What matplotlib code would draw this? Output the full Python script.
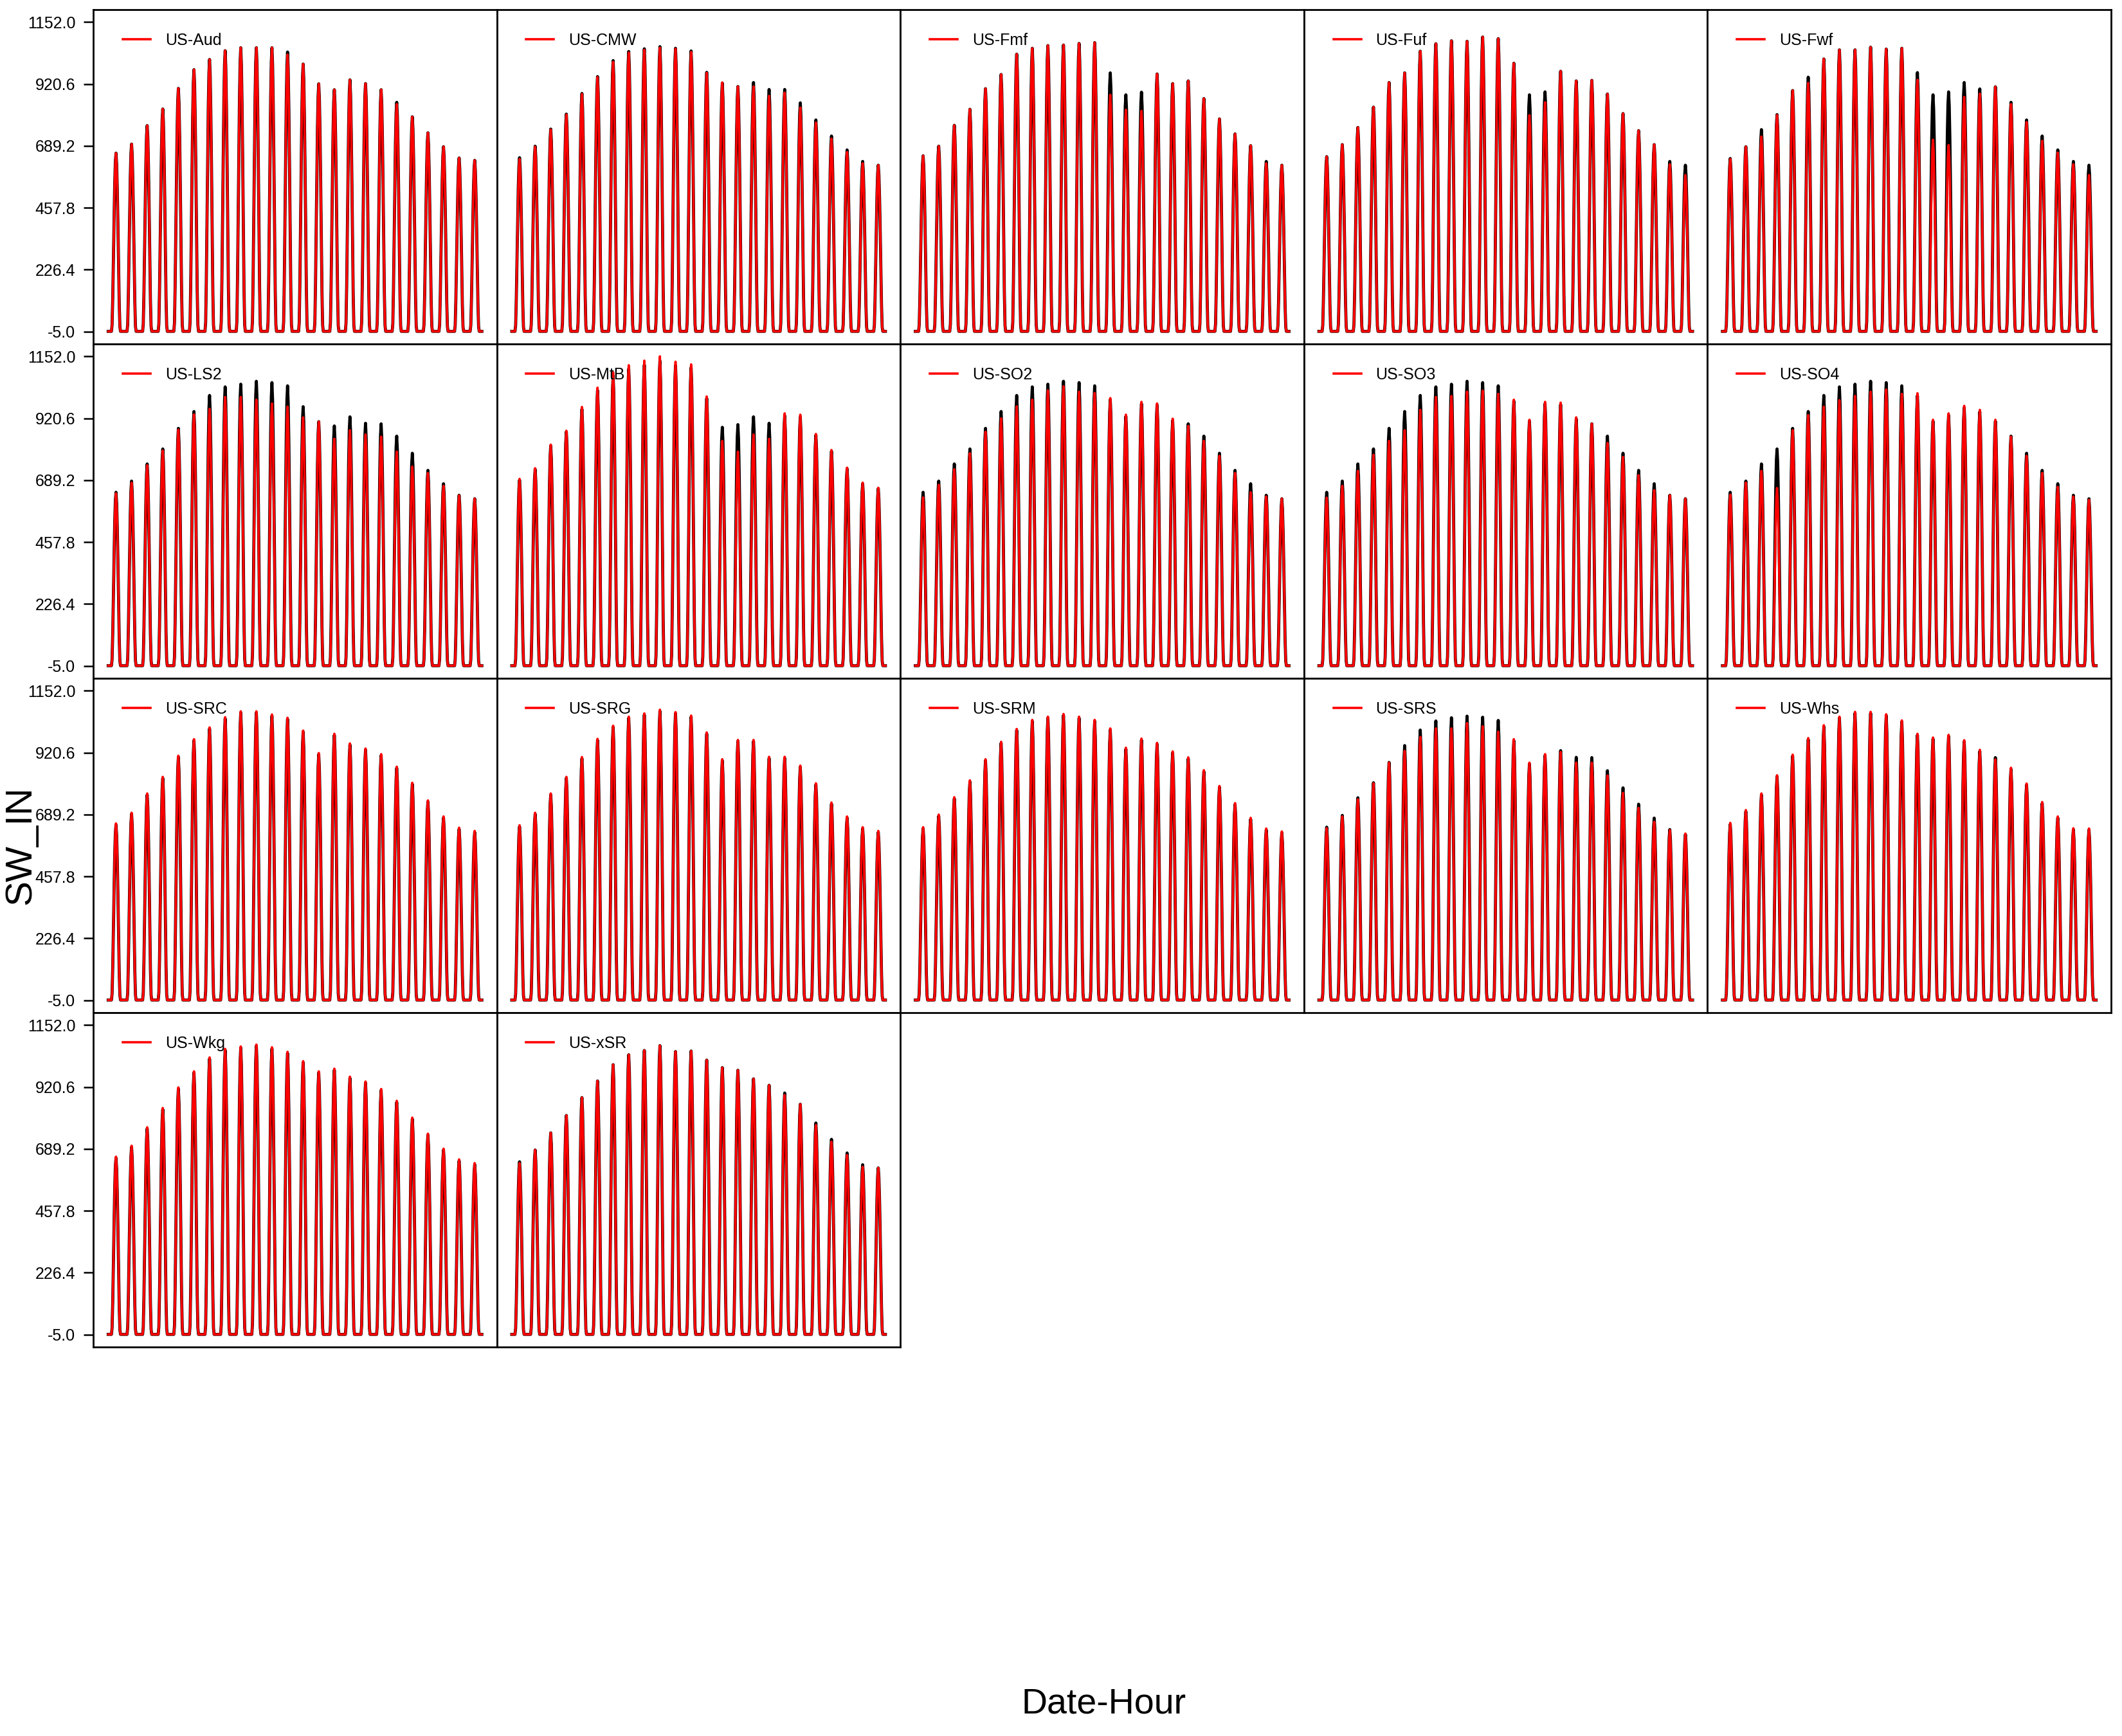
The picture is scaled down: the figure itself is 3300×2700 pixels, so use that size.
import numpy as np
import matplotlib
matplotlib.use('Agg')
import matplotlib.pyplot as plt

plt.rcParams['font.family'] = ['Liberation Sans', 'DejaVu Sans']

# daily peak of SW_IN (W m-2) for 24 consecutive days, black and red series
aud_black = [662, 696, 765, 827, 904, 974, 1012, 1045, 1056, 1056, 1056, 1040, 995, 921, 899, 936, 922, 899, 852, 798, 738, 686, 644, 635]
aud_red = [662, 696, 765, 827, 904, 974, 1012, 1045, 1056, 1056, 1056, 1030, 995, 921, 899, 936, 922, 899, 845, 798, 738, 686, 644, 635]

cmw_black = [645, 688, 752, 808, 885, 948, 1008, 1042, 1052, 1060, 1054, 1044, 964, 924, 911, 926, 900, 900, 850, 786, 726, 674, 631, 617]
cmw_red = [640, 686, 750, 806, 883, 946, 1003, 1038, 1048, 1056, 1052, 1040, 962, 926, 911, 911, 876, 888, 832, 776, 716, 666, 624, 617]

fmf_black = [652, 688, 766, 826, 903, 956, 1032, 1054, 1064, 1066, 1072, 1075, 962, 880, 890, 958, 922, 932, 866, 790, 734, 690, 631, 617]
fmf_red = [652, 688, 766, 826, 903, 956, 1032, 1054, 1064, 1066, 1072, 1075, 880, 824, 820, 958, 922, 932, 866, 790, 734, 690, 624, 617]

fuf_black = [649, 694, 758, 834, 926, 962, 1043, 1071, 1082, 1080, 1096, 1090, 998, 880, 891, 968, 932, 934, 883, 810, 746, 694, 631, 617]
fuf_red = [649, 694, 758, 834, 926, 962, 1043, 1071, 1082, 1080, 1096, 1090, 998, 804, 852, 968, 932, 934, 883, 810, 746, 694, 620, 580]

fwf_black = [642, 686, 750, 806, 896, 946, 1014, 1048, 1048, 1058, 1051, 1054, 963, 880, 891, 926, 902, 910, 852, 786, 726, 674, 631, 617]
fwf_red = [640, 686, 724, 804, 896, 924, 1014, 1048, 1048, 1058, 1051, 1054, 936, 712, 692, 872, 884, 910, 845, 778, 708, 664, 620, 580]

ls2_black = [644, 686, 750, 806, 883, 946, 1006, 1038, 1048, 1059, 1054, 1042, 964, 908, 892, 926, 902, 900, 854, 790, 726, 676, 633, 620]
ls2_red = [640, 680, 745, 800, 878, 935, 956, 1000, 1000, 990, 976, 964, 924, 908, 844, 876, 860, 852, 796, 740, 716, 668, 632, 620]

mtb_black = [690, 730, 818, 870, 955, 1025, 1080, 1105, 1120, 1135, 1118, 1110, 995, 887, 897, 926, 902, 930, 925, 858, 798, 732, 676, 658]
mtb_red = [694, 734, 822, 874, 963, 1035, 1092, 1119, 1136, 1152, 1132, 1122, 1002, 836, 796, 860, 844, 939, 934, 862, 802, 736, 680, 661]

so2_black = [644, 686, 750, 806, 883, 946, 1006, 1038, 1048, 1059, 1054, 1042, 990, 928, 975, 970, 912, 900, 854, 790, 726, 676, 633, 620]
so2_red = [625, 672, 730, 790, 870, 920, 965, 990, 1025, 1040, 1020, 1015, 996, 934, 982, 976, 919, 892, 836, 780, 716, 644, 628, 620]

so3_black = [644, 686, 750, 806, 883, 946, 1006, 1038, 1048, 1059, 1054, 1042, 985, 910, 975, 972, 918, 900, 854, 790, 726, 676, 633, 620]
so3_red = [624, 668, 724, 784, 836, 876, 952, 1000, 1004, 1020, 1024, 1012, 990, 915, 982, 979, 924, 900, 828, 776, 708, 652, 633, 620]

so4_black = [644, 686, 750, 806, 883, 946, 1006, 1038, 1048, 1059, 1054, 1042, 1005, 910, 932, 960, 945, 910, 854, 790, 726, 676, 633, 620]
so4_red = [635, 680, 724, 660, 876, 932, 964, 988, 1004, 1020, 1028, 1012, 1014, 915, 939, 967, 952, 915, 852, 780, 716, 664, 628, 616]

src_black = [651, 691, 763, 825, 904, 966, 1010, 1048, 1070, 1070, 1058, 1046, 998, 914, 986, 950, 931, 910, 863, 803, 737, 677, 635, 623]
src_red = [656, 696, 768, 830, 909, 971, 1015, 1053, 1075, 1075, 1063, 1051, 1003, 919, 991, 955, 936, 915, 868, 808, 742, 682, 640, 628]

srg_black = [644, 691, 763, 825, 899, 967, 1016, 1050, 1062, 1076, 1067, 1054, 991, 891, 963, 963, 900, 900, 867, 801, 729, 677, 637, 623]
srg_red = [649, 696, 768, 830, 904, 972, 1021, 1055, 1067, 1081, 1072, 1059, 996, 896, 968, 968, 905, 905, 872, 806, 734, 682, 642, 628]

srm_black = [637, 684, 749, 812, 891, 956, 1004, 1038, 1050, 1060, 1050, 1038, 1006, 934, 968, 952, 920, 898, 850, 791, 727, 672, 632, 621]
srm_red = [642, 689, 754, 817, 896, 961, 1009, 1043, 1055, 1065, 1055, 1043, 1011, 939, 973, 957, 925, 903, 855, 796, 732, 677, 637, 626]

srs_black = [642, 686, 752, 808, 884, 947, 1005, 1039, 1051, 1057, 1053, 1041, 965, 878, 910, 928, 903, 902, 853, 789, 728, 676, 633, 615]
srs_red = [638, 682, 746, 806, 883, 927, 979, 1011, 1011, 1031, 1019, 999, 971, 883, 915, 923, 883, 883, 835, 770, 714, 662, 631, 618]

whs_black = [653, 701, 763, 831, 908, 970, 1018, 1050, 1068, 1068, 1059, 1036, 986, 972, 982, 962, 926, 902, 859, 800, 731, 677, 633, 632]
whs_red = [658, 706, 768, 836, 913, 975, 1023, 1055, 1073, 1073, 1064, 1041, 991, 977, 987, 967, 931, 895, 864, 805, 736, 682, 638, 637]

wkg_black = [655, 696, 765, 837, 914, 974, 1026, 1058, 1067, 1074, 1064, 1047, 1012, 974, 984, 954, 936, 908, 864, 801, 741, 685, 645, 631]
wkg_red = [660, 701, 770, 842, 919, 979, 1031, 1063, 1072, 1079, 1069, 1052, 1017, 979, 989, 959, 941, 913, 869, 806, 746, 690, 650, 636]

xsr_black = [641, 685, 749, 814, 881, 943, 1004, 1041, 1057, 1075, 1053, 1055, 1021, 993, 983, 951, 927, 898, 856, 786, 725, 674, 630, 618]
xsr_red = [636, 685, 749, 814, 881, 943, 1004, 1041, 1057, 1075, 1053, 1055, 1021, 993, 983, 951, 927, 890, 856, 778, 716, 666, 622, 618]

sites = ["US-Aud", "US-CMW", "US-Fmf", "US-Fuf", "US-Fwf",
         "US-LS2", "US-MtB", "US-SO2", "US-SO3", "US-SO4",
         "US-SRC", "US-SRG", "US-SRM", "US-SRS", "US-Whs",
         "US-Wkg", "US-xSR"]
blacks = [aud_black, cmw_black, fmf_black, fuf_black, fwf_black,
          ls2_black, mtb_black, so2_black, so3_black, so4_black,
          src_black, srg_black, srm_black, srs_black, whs_black,
          wkg_black, xsr_black]
reds = [aud_red, cmw_red, fmf_red, fuf_red, fwf_red,
        ls2_red, mtb_red, so2_red, so3_red, so4_red,
        src_red, srg_red, srm_red, srs_red, whs_red,
        wkg_red, xsr_red]

# shape of one day relative to its peak, hours 0..23
hour_profile = [0, 0, 0, 0, 0, 0, 0.03, 0.18, 0.40, 0.62, 0.82, 0.95,
                1.0, 0.94, 0.80, 0.60, 0.37, 0.15, 0.02, 0, 0, 0, 0, 0]
night = -4.0

yticks = [-5.0, 226.4, 457.8, 689.2, 920.6, 1152.0]


def hourly(peaks):
    vals = []
    for p in peaks:
        for f in hour_profile:
            vals.append(p * f if f > 0 else night)
    return np.array(vals)


fig = plt.figure(figsize=(33, 27), dpi=100)

W, H = 3300.0, 2700.0
left0 = 145 / W
pw = 627.6 / W
top0 = 15
ph = 520

yr = yticks[-1] - yticks[0]
for i, site in enumerate(sites):
    row, col = i // 5, i % 5
    bottom = 1 - (top0 + ph * (row + 1)) / H
    ax = fig.add_axes([left0 + col * pw, bottom, pw, ph / H])

    yb = hourly(blacks[i])
    yr_ = hourly(reds[i])
    x = np.arange(len(yb))
    ax.plot(x, yb, color='black', lw=3.4)
    ax.plot(x, yr_, color='red', lw=2.6, label=site)

    ax.set_ylim(yticks[0] - 0.04 * yr, yticks[-1] + 0.04 * yr)
    xr = x[-1] - x[0]
    ax.set_xlim(x[0] - 0.04 * xr, x[-1] + 0.04 * xr)
    ax.set_xticks([])
    if col == 0:
        ax.set_yticks(yticks)
        ax.set_yticklabels(['%.1f' % t for t in yticks])
        ax.tick_params(axis='y', length=11, width=1.8, pad=9, labelsize=18)
    else:
        ax.set_yticks([])
    for s in ax.spines.values():
        s.set_linewidth(2.0)

    ax.legend(loc='center left', bbox_to_anchor=(0.073, 0.908), frameon=False,
              fontsize=18, handlelength=1.72, handletextpad=0.92,
              borderpad=0, borderaxespad=0)

fig.text(0.5203, 0.013, 'Date-Hour', ha='center', va='baseline', fontsize=40)
fig.text(0.0097, 0.513, 'SW_IN', rotation=90, ha='center', va='center', fontsize=42)

fig.savefig('out.png', dpi=100)
